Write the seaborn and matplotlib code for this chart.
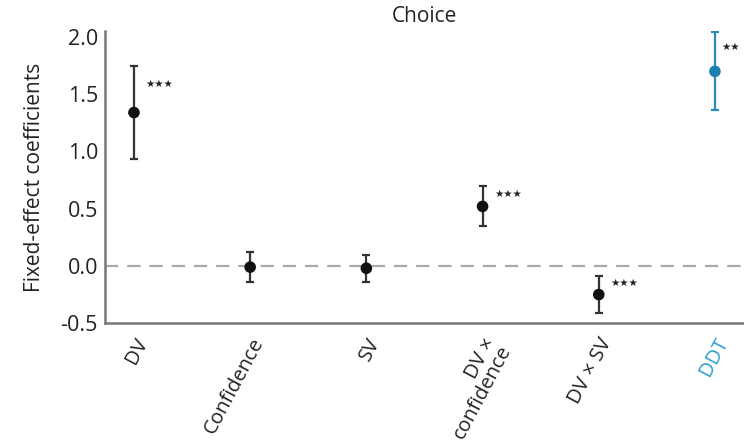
import matplotlib
matplotlib.use("Agg")
import matplotlib.pyplot as plt
import seaborn as sns
import pandas as pd

# Fixed-effect coefficients from the choice model
terms = ["DV", "Confidence", "SV", "DV ×\nconfidence", "DV × SV", "DDT"]
coef = [1.34, -0.01, -0.02, 0.52, -0.25, 1.70]
err = [0.41, 0.13, 0.12, 0.175, 0.165, 0.34]
stars = ["***", "", "", "***", "***", "**"]

sns.set_theme(style="white")
plt.rcParams["font.family"] = ["Open Sans", "DejaVu Sans"]

BLACK = "#111111"
BAR = "#333333"
BLUE = "#1a7fae"
BLUE_LABEL = "#2a9fcf"
colors = [BLACK] * 5 + [BLUE]
bar_colors = [BAR] * 5 + ["#2b8bb8"]

df = pd.DataFrame({"term": terms, "coef": coef, "err": err, "x": range(len(terms))})

fig = plt.figure(figsize=(7.44, 4.47), dpi=100)
ax = fig.add_axes([0.141, 0.277, 0.859, 0.653])

ax.axhline(0, color="#a8a8a8", lw=1.6, ls=(0, (6, 4)), zorder=1)

for i, row in df.iterrows():
    ax.errorbar(row["x"], row["coef"], yerr=row["err"], fmt="none",
                ecolor=bar_colors[i], elinewidth=1.6, capsize=3.2, capthick=1.6,
                zorder=2)

sns.scatterplot(data=df, x="x", y="coef", hue="term", palette=colors,
                s=70, edgecolor="none", legend=False, ax=ax, zorder=3)

for i, row in df.iterrows():
    if stars[i]:
        dx = 4.5 if i == len(terms) - 1 else 8.5
        ax.annotate(stars[i].replace("*", "★"), (row["x"], row["coef"] + row["err"] * 0.62),
                    xytext=(dx, 0), textcoords="offset points",
                    fontsize=7.5, color="#222222", va="center", ha="left",
                    family=["DejaVu Sans"], annotation_clip=False)

ax.set_xlim(-0.25, 5.25)
ax.set_ylim(-0.5, 2.05)
ax.set_yticks([-0.5, 0.0, 0.5, 1.0, 1.5, 2.0])
ax.set_yticklabels(["-0.5", "0.0", "0.5", "1.0", "1.5", "2.0"], fontsize=15.5, color="#222222")
ax.set_xticks(range(len(terms)))
ax.set_xticklabels(terms, rotation=62, ha="right", rotation_mode="anchor",
                   fontsize=14.5, color="#222222", linespacing=0.8)
ax.get_xticklabels()[-1].set_color(BLUE_LABEL)
ax.tick_params(axis="both", length=0)
ax.tick_params(axis="y", pad=5)
ax.tick_params(axis="x", pad=8)

ax.set_xlabel("")
ax.set_ylabel("Fixed-effect coefficients", fontsize=15, color="#222222", labelpad=11)
ax.set_title("Choice", fontsize=15, color="#222222", pad=7, x=0.5)

for side in ["top", "right"]:
    ax.spines[side].set_visible(False)
for side in ["left", "bottom"]:
    ax.spines[side].set_color("#777777")
    ax.spines[side].set_linewidth(1.8)

fig.savefig("out.png", dpi=100)
